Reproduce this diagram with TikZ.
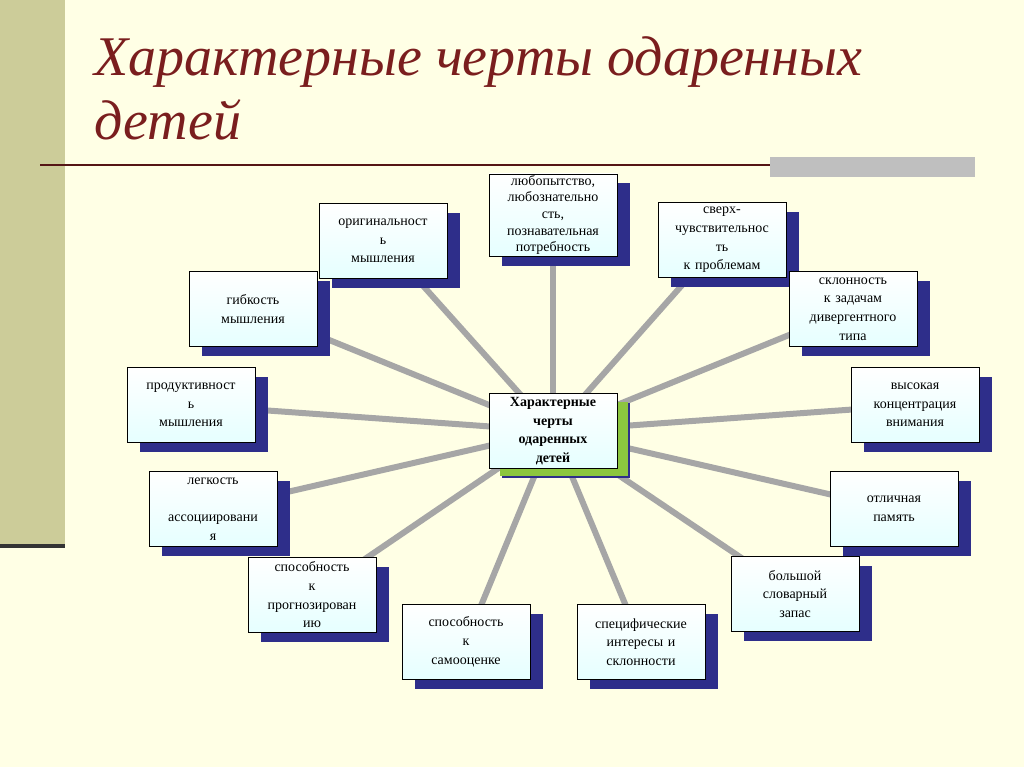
\documentclass[tikz,border=0pt]{standalone}
\usepackage{fontspec}
\setmainfont{Liberation Serif}
\usetikzlibrary{shadows,backgrounds}
\definecolor{cream}{HTML}{FFFFE5}
\definecolor{olive}{HTML}{CCCC99}
\definecolor{titlered}{HTML}{7A1E1E}
\definecolor{navy}{HTML}{2E2E8A}
\definecolor{limeg}{HTML}{8CC63F}
\tikzset{
  featbox/.style={draw=black, top color=white, bottom color=cyan!10, minimum width=96pt,
    minimum height=56pt, text width=92pt, align=center, inner sep=1pt,
    font=\fontsize{10.5}{14}\selectfont,
    general shadow={fill=navy, shadow xshift=10pt, shadow yshift=-7pt}},
  hubbox/.style={featbox, font=\fontsize{10.5}{14}\selectfont\bfseries,
    general shadow={fill=limeg, shadow xshift=8pt, shadow yshift=-6pt}},
  spoke/.style={draw=gray!70, line width=4.5pt}
}
\begin{document}
\begin{tikzpicture}[x=0.75pt,y=-0.75pt]
	%frame
		\useasboundingbox (0,0) rectangle (1024,767);
	%title
		\node[anchor=west, text=titlered, font=\fontsize{42}{48}\selectfont\itshape, align=left] (title) at (90,88) {Характерные черты одаренных\\детей};
	%boxes
		\node[hubbox] (hub) at (553,431) {Характерные\\черты\\одаренных\\детей};
		\node[featbox] (orig) at (383,241) {оригинальност\\ь\\мышления};
		\node[featbox, font=\fontsize{10.5}{12.5}\selectfont] (curio) at (553,215) {любопытство,\\любознательно\\сть,\\познавательная\\потребность};
		\node[featbox] (sens) at (722,240) {сверх-\\чувствительнос\\ть\\к проблемам};
		\node[featbox] (diverg) at (853,309) {склонность\\к задачам\\дивергентного\\типа};
		\node[featbox] (conc) at (915,405) {высокая\\концентрация\\внимания};
		\node[featbox] (memory) at (894,509) {отличная\\память};
		\node[featbox] (vocab) at (795,594) {большой\\словарный\\запас};
		\node[featbox] (interest) at (641,642) {специфические\\интересы и\\склонности};
		\node[featbox] (selfest) at (466,642) {способность\\к\\самооценке};
		\node[featbox] (forecast) at (312,595) {способность\\к\\прогнозирован\\ию};
		\node[featbox] (assoc) at (213,509) {легкость\\[14pt]ассоциировани\\я};
		\node[featbox] (product) at (191,405) {продуктивност\\ь\\мышления};
		\node[featbox] (flex) at (253,309) {гибкость\\мышления};
	%background + spokes
		\begin{scope}[on background layer]
			\fill[cream] (0,0) rectangle (1024,767);
			\fill[olive] (0,0) rectangle (65,546);
			\draw[black!80, line width=2.5pt] (0,546) -- (65,546);
			\draw[titlered!70!black, line width=1.2pt] (40,165) -- (975,165);
			\fill[gray!50] (770,157) rectangle (975,177);
			\foreach \b in {orig,curio,sens,diverg,conc,memory,vocab,interest,selfest,forecast,assoc,product,flex}
				\draw[spoke] (hub.center) -- (\b.center);
		\end{scope}
\end{tikzpicture}
\end{document}
